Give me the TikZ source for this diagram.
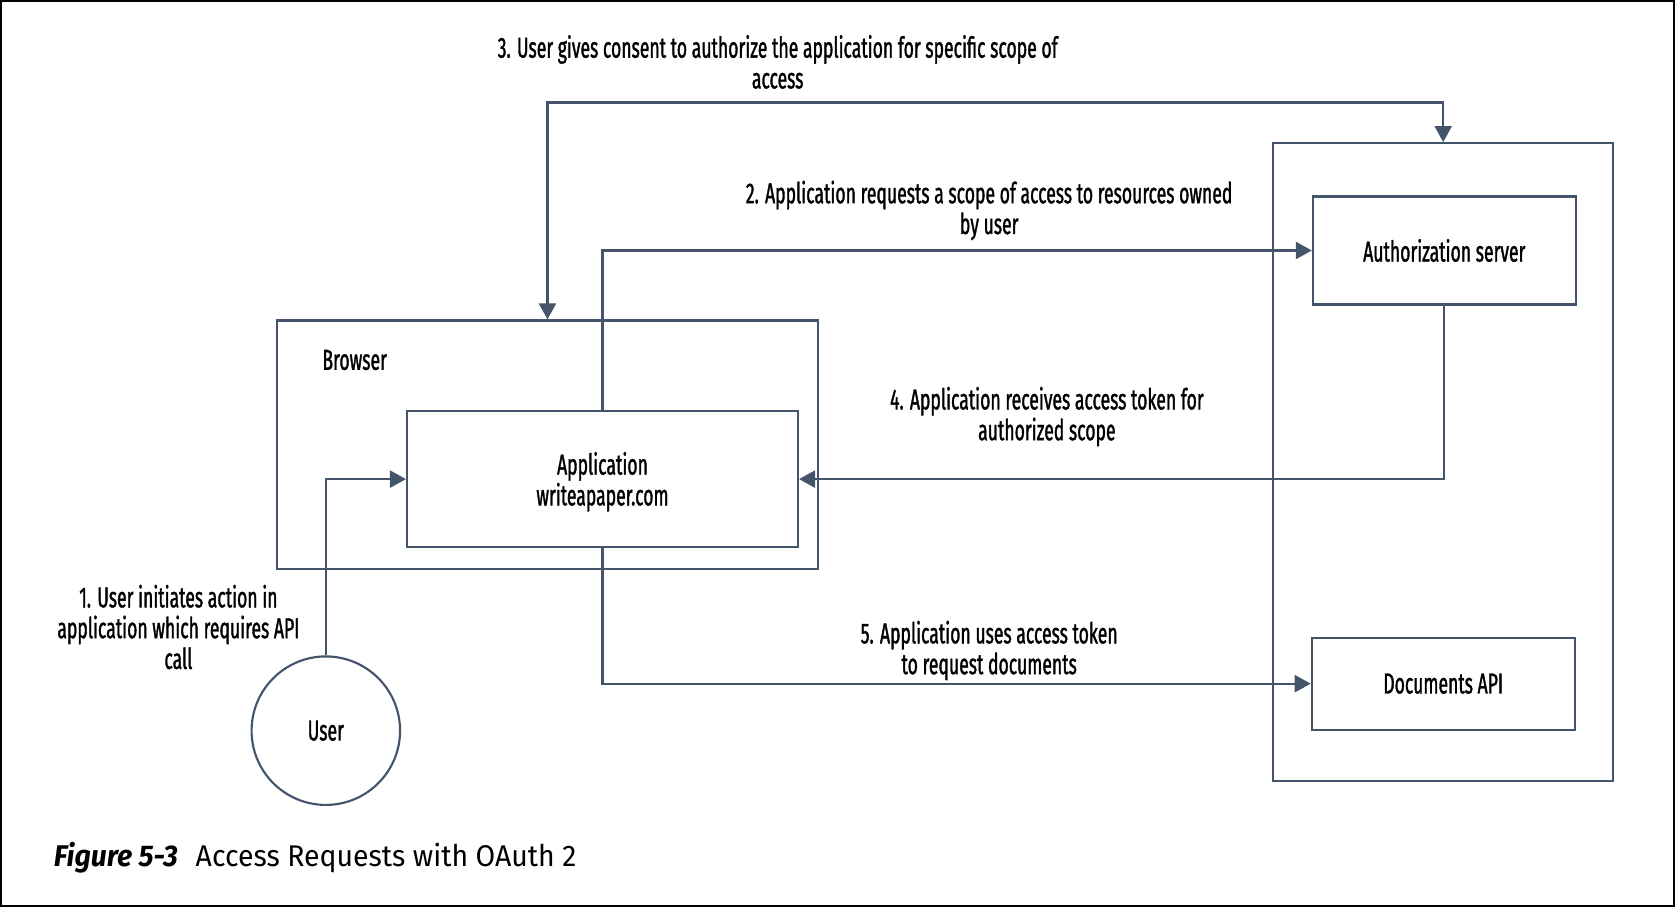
\documentclass[tikz,border=0pt]{standalone}
\usepackage{fontspec}
\usetikzlibrary{arrows.meta,calc}
\newfontfamily\condfont[FakeStretch=0.61,FakeBold=1.2]{Fira Sans}
\newfontfamily\capfont[FakeStretch=0.95]{Fira Sans}
\definecolor{linec}{HTML}{44546A}
\begin{document}
\begin{tikzpicture}[x=0.5pt,y=-0.5pt,
  box/.style={draw=linec,line width=1pt,inner sep=0pt,rectangle},
  lbl/.style={font=\condfont\fontsize{13.5pt}{14.4pt}\selectfont,align=center,inner sep=0pt,text=black},
  arr/.style={draw=linec,line width=1pt,-{Triangle[length=7.5pt,width=8pt]}},
  arrb/.style={draw=linec,line width=1pt,{Triangle[length=7.5pt,width=8pt]}-{Triangle[length=7.5pt,width=8pt]}}]
\useasboundingbox (0,0) rectangle (1568,849);
\draw[black,line width=1pt] (1,1) rectangle (1567,848);
% containers
\node[box,minimum width=253.5pt,minimum height=116.5pt] (browser) at (512.5,416.5) {};
\node[box,minimum width=159pt,minimum height=298.5pt] (rs) at (1351,432.5) {};
\node[box,minimum width=183pt,minimum height=63.5pt] (app) at (564,448.5) {};
\node[lbl] (apptext) at (564,451) {Application\\writeapaper.com};
\node[box,minimum width=123pt,minimum height=50.5pt,lbl] (auth) at (1352,234.5) {Authorization server};
\node[box,minimum width=123pt,minimum height=43pt,lbl] (docs) at (1351,640) {Documents API};
\node[draw=linec,line width=1pt,circle,minimum size=69.5pt,inner sep=0pt,lbl] (user) at (305,684) {User};
\node[lbl] (browserlbl) at (332,337) {Browser};
% connectors
\coordinate (top3) at (0,96);
\draw[arr] (user.north) |- (app.west);
\draw[arr] (app.north) |- (auth.west);
\draw[arrb] (browser.north) -- (browser.north |- top3) -| (rs.north);
\draw[arr] (auth.south) |- (app.east);
\draw[arr] (app.south) |- (docs.west);
% labels
\node[lbl] (l1) at (167,587) {1. User initiates action in\\application which requires API\\call};
\node[lbl] (l2) at (926,197) {2. Application requests a scope of access to resources owned\\by user};
\node[lbl] (l3) at (728,58) {3. User gives consent to authorize the application for specific scope of\\access};
\node[lbl] (l4) at (980,390) {4. Application receives access token for\\authorized scope};
\node[lbl] (l5) at (926,609) {5. Application uses access token\\to request documents};
\node[anchor=west,inner sep=0pt,font=\capfont\fontsize{14pt}{16pt}\selectfont] (cap) at (50,803) {\textbf{\textit{Figure 5-3}}\hspace{0.6em}Access Requests with OAuth 2};
\end{tikzpicture}
\end{document}
